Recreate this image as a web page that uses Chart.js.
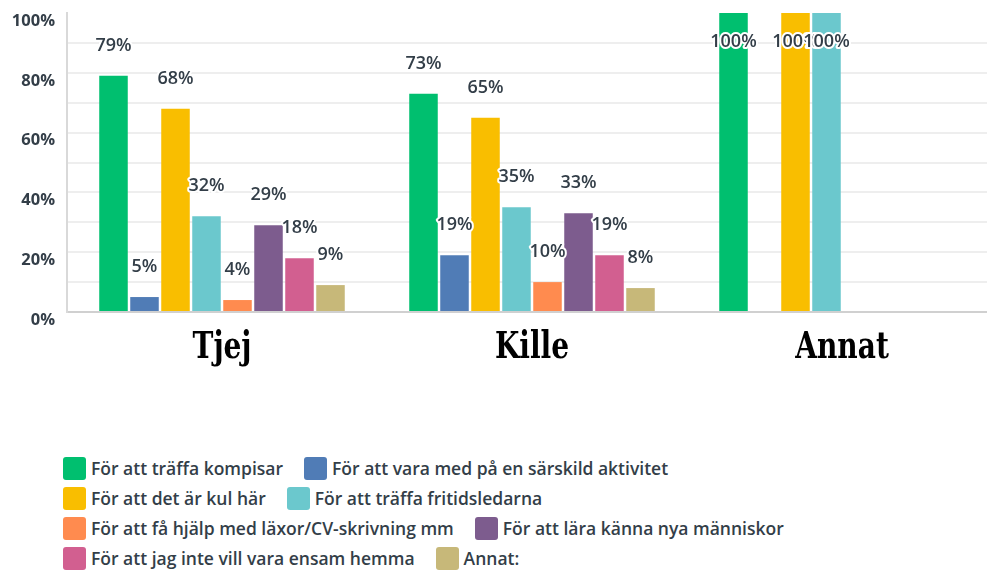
<!DOCTYPE html>
<html>
<head>
<meta charset="utf-8">
<script src="https://cdn.jsdelivr.net/npm/chart.js@4.4.1/dist/chart.umd.min.js"></script>
<style>
  html, body { margin: 0; padding: 0; background: #fff; overflow: hidden; width: 987px; height: 570px; }
  #wrap { position: absolute; left: 0; top: 0; width: 1000px; height: 400px; }
  #legend { position: absolute; left: 63px; top: 453px; width: 780px; margin: 0; padding: 0;
            list-style: none; display: flex; flex-wrap: wrap;
            font-family: 'Open Sans', sans-serif; font-weight: 600; font-size: 17.5px; color: #333e48; }
  #legend li { display: flex; align-items: center; height: 30px; margin-right: 21px; white-space: nowrap; }
  #legend span.box { width: 23px; height: 23px; border-radius: 3px; margin-right: 5px; display: inline-block; }
</style>
</head>
<body>
<div id="wrap"><canvas id="chart" width="1000" height="400"></canvas></div>
<ul id="legend"></ul>
<script>
const TEXT = '#333e48';

const categories = ['Tjej', 'Kille', 'Annat'];

// one array per answer, values in % for Tjej / Kille / Annat
const traffaKompisar    = [79, 73, 100];
const sarskildAktivitet = [5, 19, null];
const kulHar            = [68, 65, 100];
const fritidsledarna    = [32, 35, 100];
const laxhjalp          = [4, 10, null];
const nyaManniskor      = [29, 33, null];
const ensamHemma        = [18, 19, null];
const annat             = [9, 8, null];

const seriesNames = [
  'För att träffa kompisar',
  'För att vara med på en särskild aktivitet',
  'För att det är kul här',
  'För att träffa fritidsledarna',
  'För att få hjälp med läxor/CV-skrivning mm',
  'För att lära känna nya människor',
  'För att jag inte vill vara ensam hemma',
  'Annat:'
];
const seriesValues = [traffaKompisar, sarskildAktivitet, kulHar, fritidsledarna,
                      laxhjalp, nyaManniskor, ensamHemma, annat];
const seriesColors = ['#00bf6f', '#507cb6', '#f9be00', '#6bc8cd',
                      '#ff8b4f', '#7d5c8e', '#d25f90', '#c7b879'];

// value labels above each bar (inside when they would leave the plot)
const valueLabels = {
  id: 'valueLabels',
  afterDatasetsDraw(chart) {
    const { ctx, chartArea } = chart;
    ctx.save();
    ctx.font = "600 18px 'Open Sans', sans-serif";
    ctx.textAlign = 'center';
    ctx.textBaseline = 'middle';
    ctx.lineWidth = 4;
    ctx.lineJoin = 'round';
    ctx.strokeStyle = '#fff';
    ctx.fillStyle = TEXT;
    chart.data.datasets.forEach((ds, i) => {
      chart.getDatasetMeta(i).data.forEach((bar, j) => {
        const v = ds.data[j];
        if (v == null) return;
        let y = bar.y - 30;
        if (y < chartArea.top + 10) y = bar.y + 29;
        ctx.strokeText(v + '%', bar.x, y);
        ctx.fillText(v + '%', bar.x, y);
      });
    });
    ctx.restore();
  }
};

// big condensed category names under the axis
const categoryNames = {
  id: 'categoryNames',
  afterDraw(chart) {
    const { ctx, chartArea } = chart;
    const xs = chart.scales.x;
    ctx.save();
    ctx.font = "bold 38px 'DejaVu Serif Condensed', 'Liberation Serif', serif";
    ctx.fillStyle = '#000';
    ctx.textAlign = 'center';
    ctx.textBaseline = 'alphabetic';
    chart.data.labels.forEach((lab, i) => {
      ctx.save();
      ctx.translate(xs.getPixelForTick(i), chartArea.bottom + 46);
      ctx.scale(0.82, 1);
      ctx.fillText(lab, 0, 0);
      ctx.restore();
    });
    ctx.restore();
  }
};

const chart = new Chart(document.getElementById('chart'), {
  type: 'bar',
  data: {
    labels: categories,
    datasets: seriesNames.map((name, i) => ({
      label: name,
      data: seriesValues[i],
      backgroundColor: seriesColors[i],
      barPercentage: 0.92,
      categoryPercentage: 0.8,
    }))
  },
  options: {
    responsive: false,
    animation: false,
    layout: { padding: { top: 13, right: 3, left: 0, bottom: 0 } },
    plugins: {
      legend: { display: false },
      tooltip: { enabled: false }
    },
    scales: {
      x: {
        grid: { display: false, drawTicks: false },
        border: { color: '#d0d0d0', width: 2 },
        ticks: { display: false },
        afterFit: s => { s.height = 88; }
      },
      y: {
        min: 0,
        max: 100,
        grid: { color: c => c.tick.value === 100 ? 'rgba(0,0,0,0)' : '#eeeeee', lineWidth: 2, drawTicks: false },
        border: { color: '#d9d9d9', width: 2 },
        ticks: {
          stepSize: 10,
          autoSkip: false,
          padding: 12,
          labelOffset: 8,
          color: TEXT,
          font: { family: "'Open Sans', sans-serif", size: 16.5, weight: 'bold' },
          callback: v => v % 20 === 0 ? v + '%' : ''
        },
        afterFit: s => { s.width = 67; s.paddingTop = 0; s.paddingBottom = 0; }
      }
    }
  },
  plugins: [valueLabels, categoryNames]
});

// legend as html, two items per row like the original
const legendEl = document.getElementById('legend');
chart.data.datasets.forEach(ds => {
  const li = document.createElement('li');
  const box = document.createElement('span');
  box.className = 'box';
  box.style.background = ds.backgroundColor;
  li.appendChild(box);
  li.appendChild(document.createTextNode(ds.label));
  legendEl.appendChild(li);
});
</script>
</body>
</html>
